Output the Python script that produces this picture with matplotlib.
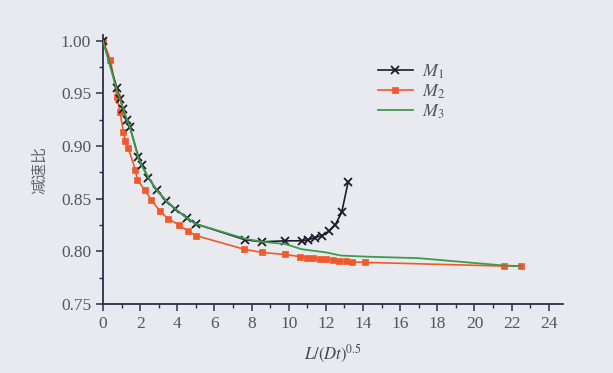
import matplotlib
matplotlib.use("Agg")
import matplotlib.pyplot as plt
from matplotlib.ticker import MultipleLocator

# ---- data ----
m1_x = [0, 0.75, 0.92, 1.09, 1.27, 1.45, 1.9, 2.08, 2.44, 2.89, 3.4, 3.9, 4.5, 5.0,
        7.65, 8.55, 9.8, 10.7, 11.05, 11.4, 11.8, 12.15, 12.5, 12.85, 13.2]
m1_y = [1.0, 0.955, 0.945, 0.935, 0.925, 0.918, 0.890, 0.882, 0.870, 0.858, 0.848, 0.840, 0.832, 0.826,
        0.811, 0.809, 0.810, 0.810, 0.811, 0.813, 0.815, 0.819, 0.825, 0.837, 0.866]

m2_x = [0, 0.4, 0.74, 0.92, 1.1, 1.2, 1.36, 1.75, 1.85, 2.25, 2.6, 3.07, 3.5, 4.1, 4.6, 5.0,
        7.6, 8.55, 9.8, 10.6, 11.0, 11.3, 11.7, 12.0, 12.4, 12.7, 13.1, 13.4, 14.1, 21.6, 22.5]
m2_y = [1.0, 0.982, 0.947, 0.932, 0.913, 0.905, 0.898, 0.877, 0.868, 0.858, 0.849, 0.838, 0.831, 0.825, 0.819, 0.815,
        0.802, 0.799, 0.797, 0.795, 0.794, 0.7935, 0.793, 0.7925, 0.792, 0.791, 0.7905, 0.790, 0.7895, 0.786, 0.786]

m3_x = [0, 0.75, 0.92, 1.1, 1.27, 1.45, 1.9, 2.1, 2.45, 2.9, 3.4, 3.9, 4.5, 5.0,
        7.65, 8.6, 9.8, 10.7, 12.0, 12.8, 14.1, 17.0, 21.6, 22.5]
m3_y = [1.0, 0.953, 0.944, 0.935, 0.926, 0.918, 0.889, 0.881, 0.870, 0.858, 0.848, 0.840, 0.832, 0.826,
        0.812, 0.809, 0.807, 0.802, 0.799, 0.796, 0.795, 0.7935, 0.7865, 0.786]

labels = [r'$M_1$', r'$M_2$', r'$M_3$']
x_label = r'$L/(Dt)^{0.5}$'
y_label = '减速比'

# ---- style ----
plt.rcParams['mathtext.fontset'] = 'stix'
plt.rcParams['font.family'] = ['Liberation Serif', 'DejaVu Serif']

bg = '#e8eaef'
fig = plt.figure(figsize=(6.13, 3.73), dpi=100, facecolor=bg)
ax = fig.add_axes([0.168, 0.185, 0.750, 0.720], facecolor=bg)

c1, c2, c3 = '#1c1c2a', '#f05a2a', '#3f9a4c'
ax.plot(m1_x, m1_y, color=c1, lw=1.2, marker='x', ms=5.5, mew=1.3, label=labels[0], zorder=3)
ax.plot(m2_x, m2_y, color=c2, lw=1.2, marker='s', ms=4.5, mew=0.5, label=labels[1], zorder=2)
ax.plot(m3_x, m3_y, color=c3, lw=1.3, label=labels[2], zorder=4)

ax.set_xlim(0, 24.75)
ax.set_ylim(0.75, 1.005)
ax.xaxis.set_major_locator(MultipleLocator(2))
ax.xaxis.set_minor_locator(MultipleLocator(1))
ax.yaxis.set_major_locator(MultipleLocator(0.05))
ax.yaxis.set_minor_locator(MultipleLocator(0.025))
ax.yaxis.set_major_formatter(matplotlib.ticker.FormatStrFormatter('%.2f'))

for s in ['top', 'right']:
    ax.spines[s].set_visible(False)
for s in ['left', 'bottom']:
    ax.spines[s].set_color('#2a2f48')
    ax.spines[s].set_linewidth(1.3)

ax.tick_params(which='both', direction='out', colors='#2a2f48', labelcolor='#555560', labelsize=12.5)
ax.tick_params(which='major', length=5, width=1.1)
ax.tick_params(which='minor', length=3, width=1.0)

ax.set_xlabel(x_label, fontsize=12, color='#444450', labelpad=8)
ax.set_ylabel(y_label, fontsize=11.5, color='#666670', labelpad=9,
              family=['Noto Sans CJK SC', 'DejaVu Sans'])

leg = ax.legend(loc='upper left', bbox_to_anchor=(362 / 613, 1 - 46 / 373),
                bbox_transform=fig.transFigure, frameon=False, fontsize=13,
                handlelength=1.9, labelspacing=0.1, handletextpad=0.5)
for t in leg.get_texts():
    t.set_color('#555560')

fig.savefig('out.png', dpi=100, facecolor=bg)
